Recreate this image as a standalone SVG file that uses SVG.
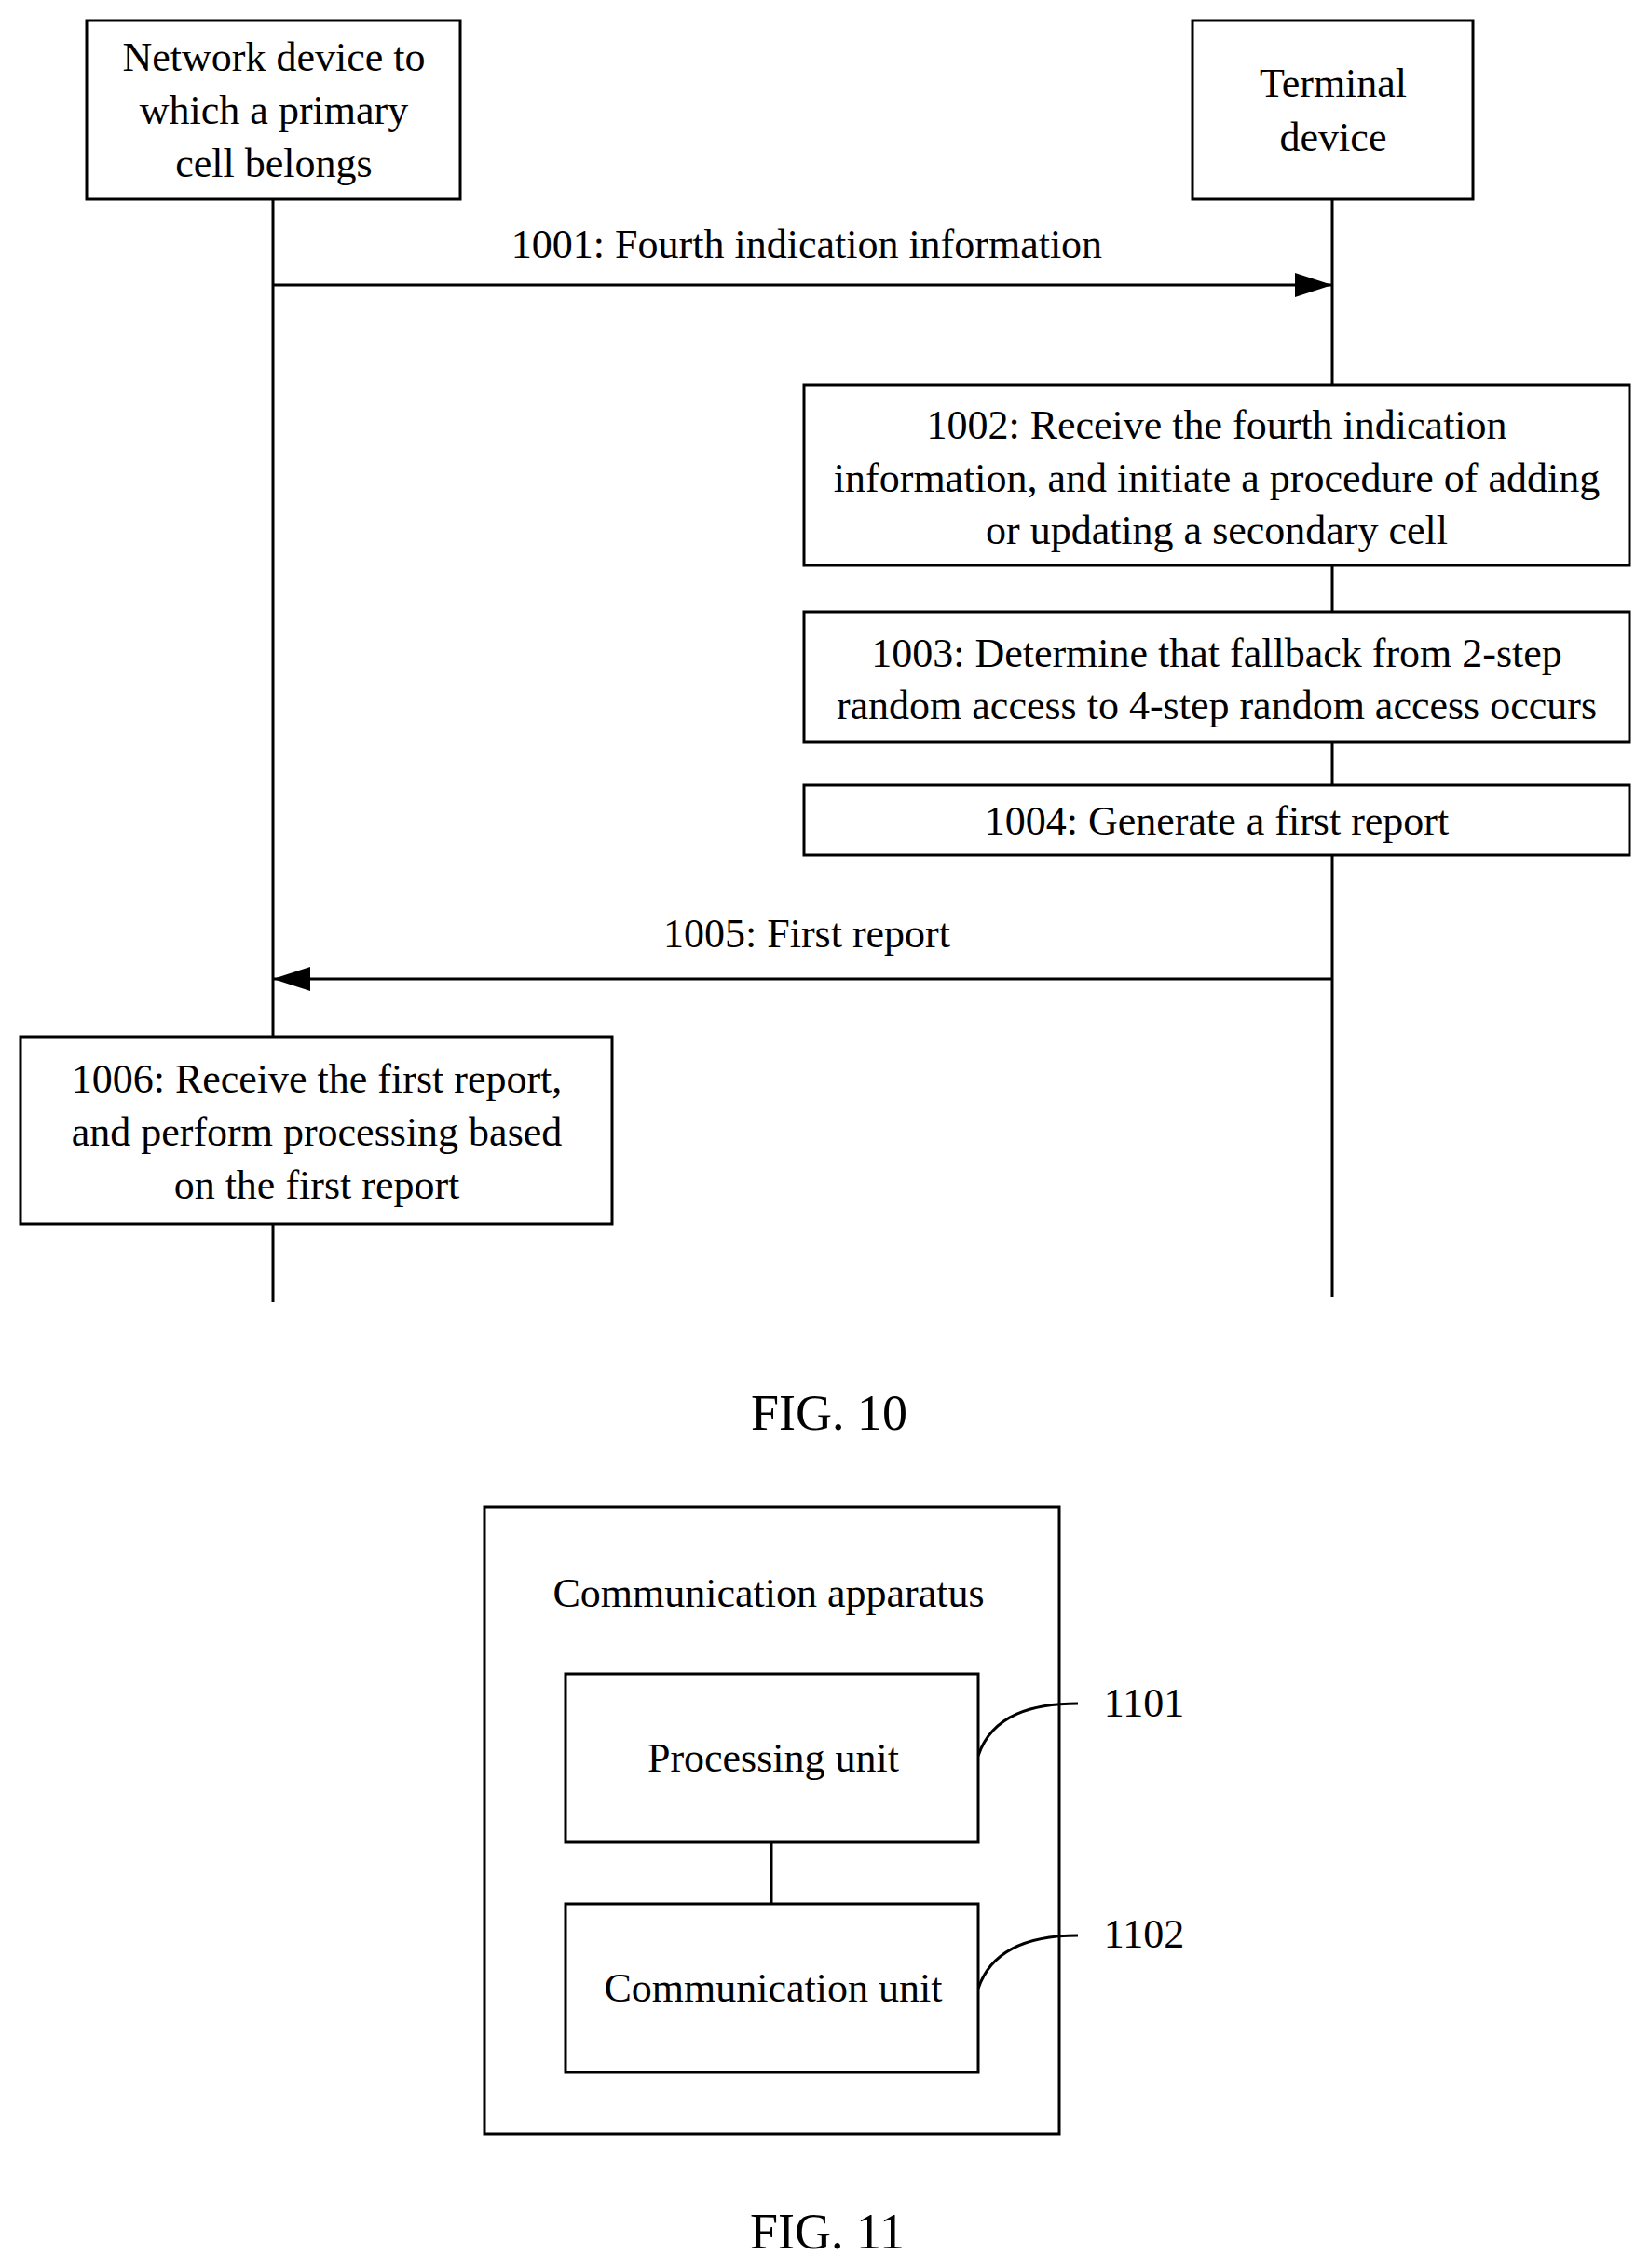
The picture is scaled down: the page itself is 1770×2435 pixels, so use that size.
<svg xmlns="http://www.w3.org/2000/svg" width="1770" height="2435" viewBox="0 0 1770 2435">
<style>
rect{fill:#fff;stroke:#000;stroke-width:3}
line,.c{stroke:#000;stroke-width:3;fill:none}
.h{fill:#000;stroke:none}
text{font-family:"Liberation Serif",serif;font-size:44px;text-anchor:middle;fill:#000}
.fig{font-size:54px}
</style>
<defs>
<marker id="b" markerWidth="40" markerHeight="26" refX="40" refY="13" orient="auto" markerUnits="userSpaceOnUse"><path class="h" d="M0,0L40,13L0,26z"/></marker></defs>
<g id="network"><rect x="93" y="22" width="401" height="192"/><text x="294" y="76">Network device to</text><text x="294" y="133">which a primary</text><text x="294" y="190">cell belongs</text></g>
<g id="terminal"><rect x="1280" y="22" width="301" height="192"/><text x="1431" y="104">Terminal</text><text x="1431" y="162">device</text></g>
<g id="l1001"><text x="866" y="277">1001: Fourth indication information</text></g>
<g id="l1005"><text x="866" y="1017">1005: First report</text></g>
<text class="fig" x="890" y="1535">FIG. 10</text>
<g id="apparatus"><rect x="520" y="1618" width="617" height="673"/><text x="825" y="1725">Communication apparatus</text></g>
<g id="connectors">
<line x1="293" y1="214" x2="293" y2="1398"/>
<line x1="1430" y1="214" x2="1430" y2="1393"/>
<line x1="293" y1="306" x2="1430" y2="306" marker-end="url(#b)"/>
<line x1="1430" y1="1051" x2="293" y2="1051" marker-end="url(#b)"/>
<line x1="828" y1="1978" x2="828" y2="2044"/>
<path class="c" d="M1050,1885 C1065,1840 1110,1829 1157,1829"/>
<path class="c" d="M1050,2135 C1065,2090 1110,2078 1157,2078"/>
</g>
<g id="s1002"><rect x="863" y="413" width="886" height="194"/><text x="1306" y="471">1002: Receive the fourth indication</text><text x="1306" y="528">information, and initiate a procedure of adding</text><text x="1306" y="584">or updating a secondary cell</text></g>
<g id="s1003"><rect x="863" y="657" width="886" height="140"/><text x="1306" y="716">1003: Determine that fallback from 2-step</text><text x="1306" y="772">random access to 4-step random access occurs</text></g>
<g id="s1004"><rect x="863" y="843" width="886" height="75"/><text x="1306" y="896">1004: Generate a first report</text></g>
<g id="s1006"><rect x="22" y="1113" width="635" height="201"/><text x="340" y="1173">1006: Receive the first report,</text><text x="340" y="1230">and perform processing based</text><text x="340" y="1287">on the first report</text></g>
<g id="processing"><rect x="607" y="1797" width="443" height="181"/><text x="830" y="1902">Processing unit</text></g>
<g id="communication"><rect x="607" y="2044" width="443" height="181"/><text x="830" y="2149">Communication unit</text></g>
<text x="1228" y="1843">1101</text>
<text x="1228" y="2091">1102</text>
<text class="fig" x="888" y="2414">FIG. 11</text>
</svg>
